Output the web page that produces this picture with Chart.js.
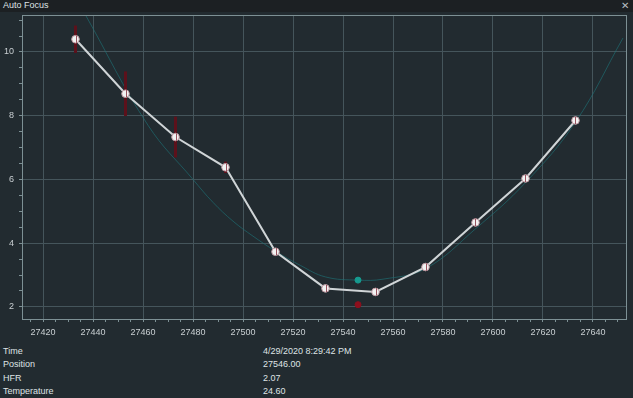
<!DOCTYPE html>
<html>
<head>
<meta charset="utf-8">
<script src="https://cdn.jsdelivr.net/npm/chart.js@4.4.1/dist/chart.umd.min.js"></script>
<style>
    body { margin: 0; background: #222b30; width: 633px; height: 398px; overflow: hidden; font-family: "Liberation Sans Narrow", "Liberation Sans", sans-serif; color: #dfe3e5; }
    #titulo { position: absolute; left: 0; top: 0; width: 633px; height: 12px; background: #1c2023; font-size: 9px; line-height: 11px; }
    #titulo span { position: absolute; left: 3px; top: 0; }
    #titulo .cerrar { left: auto; right: 4px; font-size: 10px; color: #b8bec1; }
    #grafica { position: absolute; left: 0; top: 0; width: 633px; height: 342px; }
    .info { position: absolute; font-size: 9px; }
</style>
</head>
<body>
<div id="titulo"><span>Auto Focus</span><span class="cerrar">✕</span></div>
<div id="grafica"><canvas id="lienzo"></canvas></div>
<div class="info" style="left:3px; top:346px;">Time</div>
<div class="info" style="left:3px; top:359px;">Position</div>
<div class="info" style="left:3px; top:373px;">HFR</div>
<div class="info" style="left:3px; top:386px;">Temperature</div>
<div class="info" style="left:263px; top:346px;">4/29/2020 8:29:42 PM</div>
<div class="info" style="left:263px; top:359px;">27546.00</div>
<div class="info" style="left:263px; top:373px;">2.07</div>
<div class="info" style="left:263px; top:386px;">24.60</div>
<script>
// puntos medidos
const posiciones = [27433, 27453, 27473, 27493, 27513, 27533, 27553, 27573, 27593, 27613, 27633];
const valoresHfr = [10.40, 8.69, 7.33, 6.38, 3.73, 2.58, 2.47, 3.25, 4.65, 6.03, 7.85];
const erroresHfr = [0.43, 0.70, 0.64, 0.18, 0.10, 0.08, 0.08, 0.08, 0.12, 0.08, 0.10];

// curva hiperbolica
const curvaX = [27437, 27462, 27480, 27488, 27496, 27504, 27513, 27523, 27533, 27546, 27556, 27573, 27593, 27613, 27633, 27652];
const curvaY = [11.16, 7.70, 6.00, 5.28, 4.69, 4.22, 3.75, 3.30, 2.94, 2.84, 2.87, 3.20, 4.45, 5.90, 7.80, 10.44];

const minimoPos = 27546;
const minimoHfr = 2.84;
const posFinal = 27546;
const hfrFinal = 2.07;

const ejeXMin = 27411.6, ejeXMax = 27653.2;
const ejeYMin = 1.62, ejeYMax = 11.16;

const ticksX = [];
for (let v = 27415; v <= 27650; v += 5) ticksX.push(v);
const ticksY = [];
for (let v = 2; v <= 11; v += 0.5) ticksY.push(v);

const colorGrid = '#45555b';
const colorTick = '#7d9094';
const fuente = { family: '"Liberation Sans Narrow", "Liberation Sans", sans-serif', size: 9 };

const barrasError = {
    id: 'barrasError',
    beforeDatasetDraw(chart, args) {
        if (args.index !== 1) return;
        const ctx = chart.ctx;
        const x = chart.scales.x, y = chart.scales.y;
        ctx.save();
        ctx.strokeStyle = '#5c111b';
        ctx.lineWidth = 3;
        posiciones.forEach((p, i) => {
            ctx.beginPath();
            ctx.moveTo(x.getPixelForValue(p), y.getPixelForValue(valoresHfr[i] + erroresHfr[i]));
            ctx.lineTo(x.getPixelForValue(p), y.getPixelForValue(valoresHfr[i] - erroresHfr[i]));
            ctx.stroke();
        });
        ctx.restore();
    },
    afterDatasetDraw(chart, args) {
        if (args.index !== 1) return;
        const ctx = chart.ctx;
        const x = chart.scales.x, y = chart.scales.y;
        ctx.save();
        ctx.strokeStyle = 'rgba(120,30,45,0.75)';
        ctx.lineWidth = 1;
        posiciones.forEach((p, i) => {
            const px = Math.round(x.getPixelForValue(p)) + 0.5;
            const py = y.getPixelForValue(valoresHfr[i]);
            ctx.beginPath();
            ctx.moveTo(px, py - 3.5);
            ctx.lineTo(px, py + 3.5);
            ctx.stroke();
        });
        ctx.restore();
    }
};

const marco = {
    id: 'marco',
    afterDraw(chart) {
        const a = chart.chartArea;
        const ctx = chart.ctx;
        ctx.save();
        ctx.strokeStyle = colorTick;
        ctx.lineWidth = 1;
        ctx.strokeRect(Math.round(a.left) + 0.5, Math.round(a.top) + 0.5, Math.round(a.right - a.left), Math.round(a.bottom - a.top));
        ctx.restore();
    }
};

new Chart(document.getElementById('lienzo'), {
    type: 'line',
    data: {
        datasets: [
            {
                data: curvaX.map((v, i) => ({ x: v, y: curvaY[i] })),
                borderColor: 'rgba(30,112,116,0.65)',
                borderWidth: 1,
                pointRadius: 0,
                tension: 0.4,
                order: 4
            },
            {
                data: posiciones.map((v, i) => ({ x: v, y: valoresHfr[i] })),
                borderColor: '#d0d5d7',
                borderWidth: 2,
                pointRadius: 3.8,
                pointBackgroundColor: '#f2f2f2',
                pointBorderColor: '#bf9aa2',
                pointBorderWidth: 1,
                tension: 0,
                order: 1
            },
            {
                data: [{ x: minimoPos, y: minimoHfr }],
                showLine: false,
                pointRadius: 3,
                pointBackgroundColor: '#169a8f',
                pointBorderColor: '#169a8f',
                order: 2
            },
            {
                data: [{ x: posFinal, y: hfrFinal }],
                showLine: false,
                pointRadius: 3,
                pointBackgroundColor: '#8e0f1d',
                pointBorderColor: '#8e0f1d',
                order: 3
            }
        ]
    },
    options: {
        responsive: true,
        maintainAspectRatio: false,
        animation: false,
        layout: { padding: { top: 15, right: 7, left: 0, bottom: 0 } },
        plugins: { legend: { display: false }, tooltip: { enabled: false } },
        scales: {
            x: {
                type: 'linear',
                min: ejeXMin,
                max: ejeXMax,
                afterBuildTicks: s => { s.ticks = ticksX.map(v => ({ value: v })); },
                afterFit: s => { s.height = 23; },
                border: { display: false },
                grid: {
                    color: c => (c.tick && c.tick.value % 20 === 0) ? colorGrid : 'rgba(0,0,0,0)',
                    tickColor: colorTick,
                    tickLength: 3
                },
                ticks: {
                    autoSkip: false,
                    maxRotation: 0,
                    padding: 5,
                    color: '#c9cfd2',
                    font: fuente,
                    callback: v => v % 20 === 0 ? v : ''
                }
            },
            y: {
                min: ejeYMin,
                max: ejeYMax,
                afterBuildTicks: s => { s.ticks = ticksY.map(v => ({ value: v })); },
                afterFit: s => { s.width = 22; },
                border: { display: false },
                grid: {
                    color: c => (c.tick && c.tick.value % 2 === 0) ? colorGrid : 'rgba(0,0,0,0)',
                    tickColor: colorTick,
                    tickLength: 3
                },
                ticks: {
                    autoSkip: false,
                    padding: 5,
                    color: '#c9cfd2',
                    font: fuente,
                    callback: v => v % 2 === 0 ? v : ''
                }
            }
        }
    },
    plugins: [barrasError, marco]
});
</script>
</body>
</html>
